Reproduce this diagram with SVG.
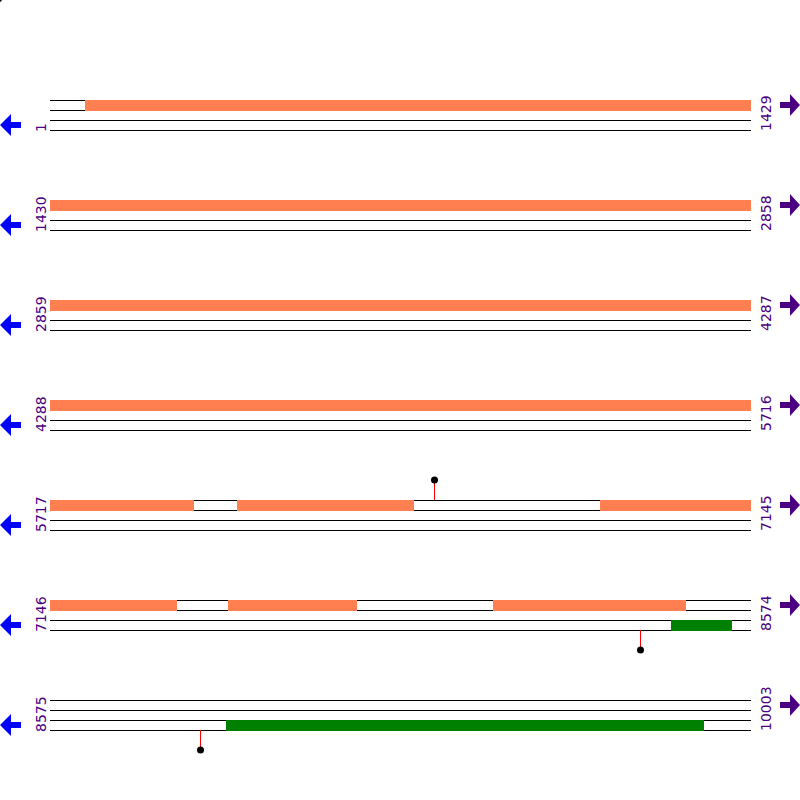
<svg xmlns="http://www.w3.org/2000/svg" width="800" height="800" viewBox="0 0 800 800">
<style>
.ln{stroke:#000;stroke-width:1;shape-rendering:crispEdges}
.or{fill:#FF7F50;shape-rendering:crispEdges}
.gr{fill:#008000;shape-rendering:crispEdges}
.lbl{font-family:"DejaVu Sans",Verdana,sans-serif;font-size:14px;fill:#4B0082}
.la{fill:#0000FF}
.ra{fill:#4B0082}
.stem{stroke:#FF0000;stroke-width:1}
.dot{fill:#000}
</style>
<defs>
<g id="strands">
<line class="ln" x1="50" y1="100.5" x2="751" y2="100.5"/>
<line class="ln" x1="50" y1="110.5" x2="751" y2="110.5"/>
<line class="ln" x1="50" y1="120.5" x2="751" y2="120.5"/>
<line class="ln" x1="50" y1="130.5" x2="751" y2="130.5"/>
</g>
<polygon id="larrow" class="la" points="0,125 11,114 11,122 21,122 21,128 11,128 11,136"/>
<polygon id="rarrow" class="ra" points="800,105 790,94 790,102 780,102 780,108 790,108 790,116"/>
</defs>
<circle class="dot" cx="-1" cy="-1" r="3"/>
<g id="row1">
<use href="#strands"/>
<rect class="or" x="85" y="100" width="666" height="11"/>
<use href="#larrow"/><use href="#rarrow"/>
<text class="lbl" transform="translate(46,132) rotate(-90)">1</text>
<text class="lbl" transform="translate(771,131) rotate(-90)">1429</text>
</g>
<g id="row2" transform="translate(0,100)">
<use href="#strands"/>
<rect class="or" x="50" y="100" width="701" height="11"/>
<use href="#larrow"/><use href="#rarrow"/>
<text class="lbl" transform="translate(46,132) rotate(-90)">1430</text>
<text class="lbl" transform="translate(771,131) rotate(-90)">2858</text>
</g>
<g id="row3" transform="translate(0,200)">
<use href="#strands"/>
<rect class="or" x="50" y="100" width="701" height="11"/>
<use href="#larrow"/><use href="#rarrow"/>
<text class="lbl" transform="translate(46,132) rotate(-90)">2859</text>
<text class="lbl" transform="translate(771,131) rotate(-90)">4287</text>
</g>
<g id="row4" transform="translate(0,300)">
<use href="#strands"/>
<rect class="or" x="50" y="100" width="701" height="11"/>
<use href="#larrow"/><use href="#rarrow"/>
<text class="lbl" transform="translate(46,132) rotate(-90)">4288</text>
<text class="lbl" transform="translate(771,131) rotate(-90)">5716</text>
</g>
<g id="row5" transform="translate(0,400)">
<use href="#strands"/>
<rect class="or" x="50" y="100" width="144" height="11"/>
<rect class="or" x="237" y="100" width="177" height="11"/>
<rect class="or" x="600" y="100" width="151" height="11"/>
<use href="#larrow"/><use href="#rarrow"/>
<text class="lbl" transform="translate(46,132) rotate(-90)">5717</text>
<text class="lbl" transform="translate(771,131) rotate(-90)">7145</text>
<line class="stem" x1="434.5" y1="100" x2="434.5" y2="80"/>
<circle class="dot" cx="434.5" cy="80" r="3.5"/>
</g>
<g id="row6" transform="translate(0,500)">
<use href="#strands"/>
<rect class="or" x="50" y="100" width="127" height="11"/>
<rect class="or" x="228" y="100" width="129" height="11"/>
<rect class="or" x="493" y="100" width="193" height="11"/>
<rect class="gr" x="671" y="120" width="61" height="11"/>
<use href="#larrow"/><use href="#rarrow"/>
<text class="lbl" transform="translate(46,132) rotate(-90)">7146</text>
<text class="lbl" transform="translate(771,131) rotate(-90)">8574</text>
<line class="stem" x1="640.5" y1="130" x2="640.5" y2="150"/>
<circle class="dot" cx="640.5" cy="150" r="3.5"/>
</g>
<g id="row7" transform="translate(0,600)">
<use href="#strands"/>
<rect class="gr" x="226" y="120" width="478" height="11"/>
<use href="#larrow"/><use href="#rarrow"/>
<text class="lbl" transform="translate(46,132) rotate(-90)">8575</text>
<text class="lbl" transform="translate(771,131) rotate(-90)">10003</text>
<line class="stem" x1="200.5" y1="130" x2="200.5" y2="150"/>
<circle class="dot" cx="200.5" cy="150" r="3.5"/>
</g>
</svg>
